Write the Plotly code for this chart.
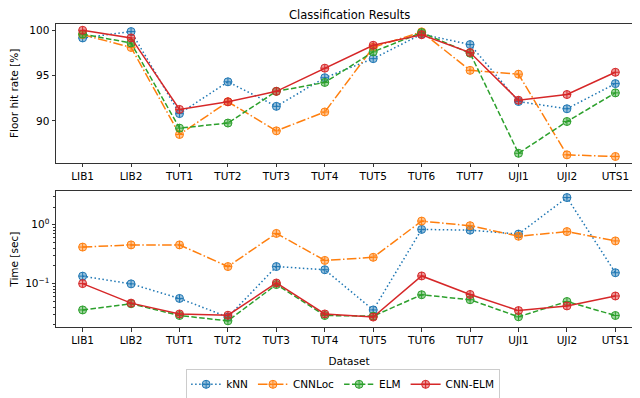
import math
import plotly.graph_objects as go
from plotly.subplots import make_subplots

# ── data ──
datasets = ["LIB1", "LIB2", "TUT1", "TUT2", "TUT3", "TUT4",
            "TUT5", "TUT6", "TUT7", "UJI1", "UJI2", "UTS1"]

hit_knn = [99.13, 99.83, 90.8, 94.3, 91.6, 94.75, 96.85, 99.55, 98.4, 92.13, 91.33, 94.1]
hit_cnnloc = [99.5, 98.08, 88.5, 92.1, 88.9, 90.98, 98.1, 99.8, 95.56, 95.14, 86.26, 86.08]
hit_elm = [99.55, 98.57, 89.2, 89.76, 93.25, 94.23, 97.6, 99.72, 97.45, 86.43, 89.93, 93.08]
hit_cnnelm = [99.97, 99.13, 91.26, 92.1, 93.25, 95.8, 98.32, 99.48, 97.52, 92.27, 92.9, 95.35]

time_knn = [0.134, 0.099, 0.056, 0.027, 0.195, 0.172, 0.0357, 0.834, 0.81, 0.695, 2.9, 0.153]
time_cnnloc = [0.418, 0.455, 0.455, 0.195, 0.713, 0.248, 0.28, 1.156, 0.965, 0.638, 0.766, 0.532]
time_elm = [0.0357, 0.0455, 0.0287, 0.0233, 0.0964, 0.0287, 0.028, 0.0647, 0.0532, 0.0273, 0.0496, 0.0287]
time_cnnelm = [0.1, 0.0466, 0.0305, 0.029, 0.1025, 0.0305, 0.027, 0.135, 0.0654, 0.0348, 0.0418, 0.0616]

names = ["kNN", "CNNLoc", "ELM", "CNN-ELM"]
colors = ["#1f77b4", "#ff7f0e", "#2ca02c", "#d62728"]
fills = ["rgba(31,119,180,0.45)", "rgba(255,127,14,0.45)",
         "rgba(44,160,44,0.45)", "rgba(214,39,40,0.45)"]
# matplotlib 스타일 (':', '-.', '--', '-') 을 lw=1.5 기준 px 로
dashes = ["1.5px,2.5px", "9.6px,2.4px,1.5px,2.4px", "5.5px,2.4px", "solid"]

hit_series = [hit_knn, hit_cnnloc, hit_elm, hit_cnnelm]
time_series = [time_knn, time_cnnloc, time_elm, time_cnnelm]

FONT = dict(family="DejaVu Sans, sans-serif", size=10.5, color="#000")


def _pad(lo, hi, frac=0.05):
    # matplotlib 기본 5% 여백
    span = hi - lo
    return [lo - span * frac, hi + span * frac]


fig = make_subplots(rows=2, cols=1, shared_xaxes=False)

for i in range(4):
    for row, ys in ((1, hit_series[i]), (2, time_series[i])):
        fig.add_trace(go.Scatter(
            x=datasets, y=ys, name=names[i], mode="lines+markers",
            line=dict(color=colors[i], width=1.5, dash=dashes[i]),
            marker=dict(symbol="circle-cross", size=8, color=fills[i],
                        line=dict(color=colors[i], width=1)),
            showlegend=(row == 1), legendgroup=names[i],
        ), row=row, col=1)

all_hit = [v for s in hit_series for v in s]
all_time = [math.log10(v) for s in time_series for v in s]

axis_common = dict(
    showline=True, mirror=True, linecolor="#333", linewidth=1,
    ticks="outside", ticklen=3.5, tickcolor="#333", showgrid=False,
    zeroline=False, tickfont=FONT, automargin=False,
)

fig.update_xaxes(range=[-0.55, len(datasets) - 0.45], **axis_common)
fig.update_xaxes(domain=[0, 1], row=1, col=1)
fig.update_xaxes(title=dict(text="Dataset", font=FONT, standoff=12), row=2, col=1)

fig.update_yaxes(domain=[0.542, 1], range=_pad(min(all_hit), max(all_hit)),
                 tickvals=[90, 95, 100],
                 title=dict(text="Floor hit rate [%]", font=FONT, standoff=10),
                 row=1, col=1, **axis_common)

minor_vals = [m * 10 ** e for e in (-2, -1, 0) for m in range(2, 10)]
fig.update_yaxes(type="log", domain=[0, 0.4475],
                 range=_pad(min(all_time), max(all_time)),
                 tickvals=[0.1, 1], ticktext=["10<sup>−1</sup>", "10<sup>0</sup>"],
                 minor=dict(tickvals=minor_vals, ticks="outside", ticklen=2,
                            tickcolor="#333"),
                 title=dict(text="Time [sec]", font=FONT, standoff=8),
                 row=2, col=1, **axis_common)

fig.add_annotation(
    text="Classification Results", xref="paper", yref="paper",
    x=0.5, y=1, yanchor="bottom", yshift=0, showarrow=False,
    font=dict(family=FONT["family"], size=11.5, color="#000"),
)

fig.update_layout(
    width=640, height=398,
    margin=dict(l=48, r=6, t=16, b=64),
    paper_bgcolor="white", plot_bgcolor="white",
    font=FONT,
    legend=dict(orientation="h", x=0.49, xanchor="center", y=-0.138, yanchor="top",
                bordercolor="#ccc", borderwidth=1, font=FONT,
                entrywidth=0, itemwidth=30),
    showlegend=True,
)

fig.write_html("out.html")
